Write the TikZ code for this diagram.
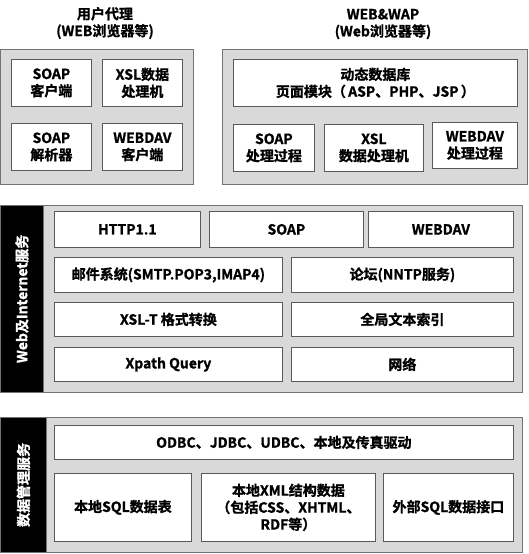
\documentclass[tikz,border=0pt]{standalone}
\usepackage{fontspec}
\setmainfont{Noto Sans CJK SC}[BoldFont={Noto Sans CJK SC Bold}, BoldFeatures={FakeBold=1.2}]
\begin{document}
\begin{tikzpicture}[x=1pt,y=-1pt,
  every node/.style={font=\bfseries\fontsize{14}{17}\selectfont, inner sep=0pt, align=center},
  panel/.style={draw=black!55, fill=black!15, line width=0.8pt, anchor=north west},
  bar/.style={fill=black, draw=black!55, line width=0.8pt, anchor=north west},
  cell/.style={draw=black!65, fill=white, line width=0.8pt, anchor=north west},
  bartext/.style={text=white, rotate=90}]
\useasboundingbox (0,0) rectangle (528,554);
% titles
\node (t1) at (105,23) {用户代理\\(WEB浏览器等)};
\node (t2) at (383,24) {WEB\&WAP\\(Web浏览器等)};
% top-left panel
\node[panel, minimum width=193, minimum height=135] (p1) at (0,49) {};
\node[cell, minimum width=80, minimum height=47] (a1) at (11,59) {SOAP\\客户端};
\node[cell, minimum width=80, minimum height=47] (a2) at (102,59) {XSL数据\\处理机};
\node[cell, minimum width=80, minimum height=47] (a3) at (11,123) {SOAP\\解析器};
\node[cell, minimum width=80, minimum height=47] (a4) at (102,123) {WEBDAV\\客户端};
% top-right panel
\node[panel, minimum width=305, minimum height=135] (p2) at (222,49) {};
\node[cell, minimum width=284, minimum height=47] (b1) at (233,59) {动态数据库\\页面模块（\,ASP、PHP、JSP\,）};
\node[cell, minimum width=81, minimum height=47] (b2) at (233,124) {SOAP\\处理过程};
\node[cell, minimum width=99, minimum height=47] (b3) at (324,124) {XSL\\数据处理机};
\node[cell, minimum width=85, minimum height=46] (b4) at (432,122) {WEBDAV\\处理过程};
% middle panel
\node[panel, minimum width=522, minimum height=187] (p3) at (0,205) {};
\node[bar, minimum width=43, minimum height=187] (k3) at (0,205) {};
\node[bartext] (k3t) at (k3.center) {Web及Internet服务};
\node[cell, minimum width=146, minimum height=36] (c1) at (54,211) {HTTP1.1};
\node[cell, minimum width=154, minimum height=36] (c2) at (209,211) {SOAP};
\node[cell, minimum width=145, minimum height=36] (c3) at (368,211) {WEBDAV};
\node[cell, minimum width=228, minimum height=35] (c4) at (54,257) {邮件系统(SMTP.POP3,IMAP4)};
\node[cell, minimum width=222, minimum height=35] (c5) at (291,257) {论坛(NNTP服务)};
\node[cell, minimum width=228, minimum height=34] (c6) at (54,302) {XSL-T 格式转换};
\node[cell, minimum width=222, minimum height=34] (c7) at (291,302) {全局文本索引};
\node[cell, minimum width=228, minimum height=34] (c8) at (54,347) {Xpath Query};
\node[cell, minimum width=222, minimum height=34] (c9) at (291,347) {网络};
% bottom panel
\node[panel, minimum width=522, minimum height=135] (p4) at (0,417) {};
\node[bar, minimum width=46, minimum height=135] (k4) at (0,417) {};
\node[bartext] (k4t) at (k4.center) {数据管理服务};
\node[cell, minimum width=459, minimum height=34] (d1) at (54,425) {ODBC、JDBC、UDBC、本地及传真驱动};
\node[cell, minimum width=137, minimum height=68] (d2) at (54,473) {本地SQL数据表};
\node[cell, minimum width=174, minimum height=68] (d3) at (201,473) {本地XML结构数据\\（包括CSS、XHTML、\\RDF等）};
\node[cell, minimum width=130, minimum height=68] (d4) at (383,473) {外部SQL数据接口};
\end{tikzpicture}
\end{document}
